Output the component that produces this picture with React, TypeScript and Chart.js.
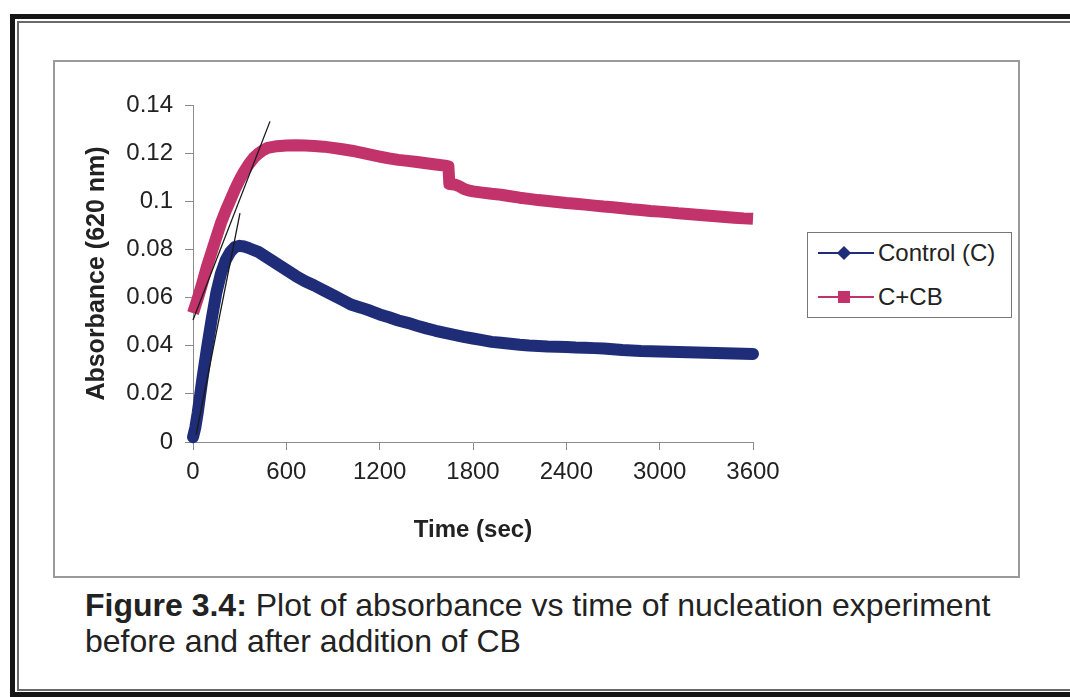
import React, { useEffect, useRef } from "react";
import { Chart, registerables } from "chart.js";

Chart.register(...registerables);

// ---- Data ----
const seriesNames = ["Control (C)", "C+CB"];

const controlTimes = [
  0, 15, 30, 45, 60, 90, 120, 150, 180, 210, 240, 270, 300, 330, 360, 420, 480, 540, 600,
  660, 720, 780, 840, 900, 960, 1020, 1080, 1140, 1200, 1260, 1320, 1380, 1440, 1500, 1560,
  1620, 1680, 1740, 1800, 1860, 1920, 1980, 2040, 2100, 2160, 2220, 2280, 2340, 2400, 2460,
  2520, 2580, 2640, 2700, 2760, 2820, 2880, 2940, 3000, 3060, 3120, 3180, 3240, 3300, 3360,
  3420, 3480, 3540, 3600,
];
const controlValues = [
  0.002, 0.006, 0.012, 0.019, 0.026, 0.039, 0.051, 0.062, 0.07, 0.0755, 0.079, 0.081, 0.0815,
  0.0812, 0.0805, 0.079, 0.0765, 0.074, 0.0715, 0.069, 0.0668, 0.065, 0.063, 0.061, 0.059,
  0.057, 0.0558, 0.0545, 0.053, 0.0518, 0.0505, 0.0495, 0.0483, 0.0472, 0.0462, 0.0453,
  0.0445, 0.0437, 0.043, 0.0423, 0.0416, 0.0412, 0.0408, 0.0404, 0.0401, 0.0399, 0.0397,
  0.0396, 0.0395, 0.0393, 0.0392, 0.039, 0.0388, 0.0385, 0.0382, 0.038, 0.0378, 0.0377,
  0.0376, 0.0375, 0.0374, 0.0373, 0.0372, 0.0371, 0.037, 0.0369, 0.0368, 0.0367, 0.0366,
];

const cbTimes = [
  0, 30, 60, 90, 120, 150, 180, 210, 240, 270, 300, 330, 360, 390, 420, 450, 480, 540, 600,
  660, 720, 780, 840, 900, 960, 1020, 1080, 1140, 1200, 1260, 1320, 1380, 1440, 1500, 1560,
  1620, 1642, 1648, 1680, 1710, 1740, 1770, 1800, 1860, 1920, 1980, 2040, 2100, 2160, 2220,
  2280, 2340, 2400, 2460, 2520, 2580, 2640, 2700, 2760, 2820, 2880, 2940, 3000, 3060, 3120,
  3180, 3240, 3300, 3360, 3420, 3480, 3540, 3600,
];
const cbValues = [
  0.0535, 0.0595, 0.066, 0.073, 0.079, 0.085, 0.091, 0.096, 0.1005, 0.105, 0.109, 0.1125,
  0.1155, 0.118, 0.1198, 0.1212, 0.1222, 0.1229, 0.1232, 0.1233, 0.1232, 0.123, 0.1227,
  0.1222, 0.1216, 0.121, 0.1202, 0.1194, 0.1186, 0.1178, 0.1172, 0.1168, 0.1163, 0.1158,
  0.1153, 0.1148, 0.1145, 0.1072, 0.107, 0.1063, 0.1052, 0.1045, 0.1041, 0.1036, 0.1031,
  0.1027, 0.1021, 0.1015, 0.101, 0.1005, 0.1001, 0.0997, 0.0993, 0.099, 0.0986, 0.0982,
  0.0978, 0.0975, 0.0971, 0.0967, 0.0964, 0.096, 0.0957, 0.0954, 0.095, 0.0947, 0.0944,
  0.0941, 0.0938, 0.0935, 0.0932, 0.0929, 0.0927,
];

// hand-drawn tangent lines on the reference
const tangentCBTimes = [0, 495];
const tangentCBValues = [0.0507, 0.1332];
const tangentCTimes = [20, 302];
const tangentCValues = [0.003, 0.0951];

const yTickLabels = ["0", "0.02", "0.04", "0.06", "0.08", "0.1", "0.12", "0.14"];
const xTickLabels = ["0", "600", "1200", "1800", "2400", "3000", "3600"];
const xTitle = "Time (sec)";
const yTitle = "Absorbance (620 nm)";
const captionBold = "Figure 3.4:";
const captionLine1 = " Plot of absorbance vs time of nucleation experiment";
const captionLine2 = "before and after addition of CB";

// ---- Styles ----
const BLUE = "#1f2d79";
const PINK = "#c2336b";
const AXIS = "#8c8c8c";
const TEXT = "#222222";
const FONT = '"Liberation Sans", Arial, Helvetica, sans-serif';

const toPoints = (xs: number[], ys: number[]) => xs.map((x, i) => ({ x, y: ys[i] }));

export default function App() {
  const ref = useRef<HTMLCanvasElement | null>(null);

  useEffect(() => {
    if (!ref.current) return;
    const chart = new Chart(ref.current, {
      type: "line",
      data: {
        datasets: [
          {
            label: "tangent-cb",
            data: toPoints(tangentCBTimes, tangentCBValues),
            borderColor: "#1a1a1a",
            borderWidth: 1.3,
            pointRadius: 0,
            clip: false,
          },
          {
            label: "tangent-c",
            data: toPoints(tangentCTimes, tangentCValues),
            borderColor: "#1a1a1a",
            borderWidth: 1.3,
            pointRadius: 0,
            clip: false,
          },
          {
            label: seriesNames[1],
            data: toPoints(cbTimes, cbValues),
            borderColor: PINK,
            backgroundColor: PINK,
            borderWidth: 12,
            borderCapStyle: "butt",
            borderJoinStyle: "round",
            pointRadius: 0,
            tension: 0,
            clip: false,
          },
          {
            label: seriesNames[0],
            data: toPoints(controlTimes, controlValues),
            borderColor: BLUE,
            backgroundColor: BLUE,
            borderWidth: 12,
            borderCapStyle: "round",
            borderJoinStyle: "round",
            pointRadius: 0,
            tension: 0,
            clip: false,
          },
        ],
      },
      options: {
        responsive: false,
        animation: false,
        layout: { padding: { left: 23, top: 43, right: 265, bottom: 27 } },
        plugins: { legend: { display: false }, tooltip: { enabled: false } },
        scales: {
          x: {
            type: "linear",
            min: 0,
            max: 3600,
            ticks: {
              stepSize: 600,
              color: TEXT,
              font: { family: FONT, size: 24 },
              padding: 8,
              maxRotation: 0,
              callback: (_v: any, i: number) => xTickLabels[i],
            },
            grid: { drawOnChartArea: false, drawTicks: true, tickLength: 8, color: AXIS },
            border: { display: true, color: AXIS, width: 1 },
            title: {
              display: true,
              text: xTitle,
              color: TEXT,
              font: { family: FONT, size: 24, weight: "bold" },
              padding: 4,
            },
            afterFit: (s: any) => {
              s.height = 107;
            },
          },
          y: {
            type: "linear",
            min: 0,
            max: 0.14,
            ticks: {
              stepSize: 0.02,
              color: TEXT,
              font: { family: FONT, size: 24 },
              padding: 12,
              callback: (_v: any, i: number) => yTickLabels[i],
            },
            grid: { drawOnChartArea: false, drawTicks: true, tickLength: 8, color: AXIS },
            border: { display: true, color: AXIS, width: 1 },
            title: {
              display: true,
              text: yTitle,
              color: TEXT,
              font: { family: FONT, size: 25, weight: "bold" },
              padding: 4,
            },
            afterFit: (s: any) => {
              s.width = 115;
            },
          },
        },
      },
    } as any);
    return () => chart.destroy();
  }, []);

  const legendRow = (top: number, color: string, marker: "diamond" | "square", text: string) => (
    <div style={{ position: "absolute", left: 0, top, width: "100%", height: 0 }}>
      <div
        style={{
          position: "absolute",
          left: 10,
          top: -1,
          width: 56,
          height: 2,
          background: color,
        }}
      />
      {marker === "diamond" ? (
        <div
          style={{
            position: "absolute",
            left: 36 - 5,
            top: -5,
            width: 10,
            height: 10,
            background: color,
            transform: "rotate(45deg)",
          }}
        />
      ) : (
        <div
          style={{
            position: "absolute",
            left: 36 - 6,
            top: -6,
            width: 12,
            height: 12,
            background: color,
          }}
        />
      )}
      <div
        style={{
          position: "absolute",
          left: 70,
          top: -15,
          height: 30,
          lineHeight: "30px",
          fontSize: 24,
          color: TEXT,
          whiteSpace: "nowrap",
        }}
      >
        {text}
      </div>
    </div>
  );

  return (
    <div
      style={{
        position: "fixed",
        left: 0,
        top: 0,
        width: 1070,
        height: 697,
        background: "#ffffff",
        overflow: "hidden",
        fontFamily: FONT,
      }}
    >
      {/* outer frame */}
      <div
        style={{
          position: "absolute",
          left: 10,
          top: 14,
          width: 1100,
          height: 683,
          border: "5px solid #151515",
          boxSizing: "border-box",
        }}
      />
      <div
        style={{
          position: "absolute",
          left: 17,
          top: 21,
          width: 1100,
          height: 670,
          border: "2px solid #6a6a6a",
          boxSizing: "border-box",
        }}
      />
      {/* chart box */}
      <div
        style={{
          position: "absolute",
          left: 53,
          top: 60,
          width: 967,
          height: 518,
          border: "2px solid #9a9a9a",
          boxSizing: "border-box",
        }}
      />
      <canvas
        ref={ref}
        width={963}
        height={514}
        style={{ position: "absolute", left: 55, top: 62, width: 963, height: 514 }}
      />
      {/* legend */}
      <div
        style={{
          position: "absolute",
          left: 807,
          top: 232,
          width: 205,
          height: 86,
          border: "1.5px solid #777",
          boxSizing: "border-box",
          background: "#fff",
        }}
      >
        {legendRow(20, BLUE, "diamond", seriesNames[0])}
        {legendRow(64, PINK, "square", seriesNames[1])}
      </div>
      {/* caption */}
      <div
        style={{
          position: "absolute",
          left: 85,
          top: 587,
          fontSize: 32,
          lineHeight: "36px",
          color: TEXT,
          whiteSpace: "nowrap",
        }}
      >
        <b>{captionBold}</b>
        {captionLine1}
        <br />
        {captionLine2}
      </div>
    </div>
  );
}
